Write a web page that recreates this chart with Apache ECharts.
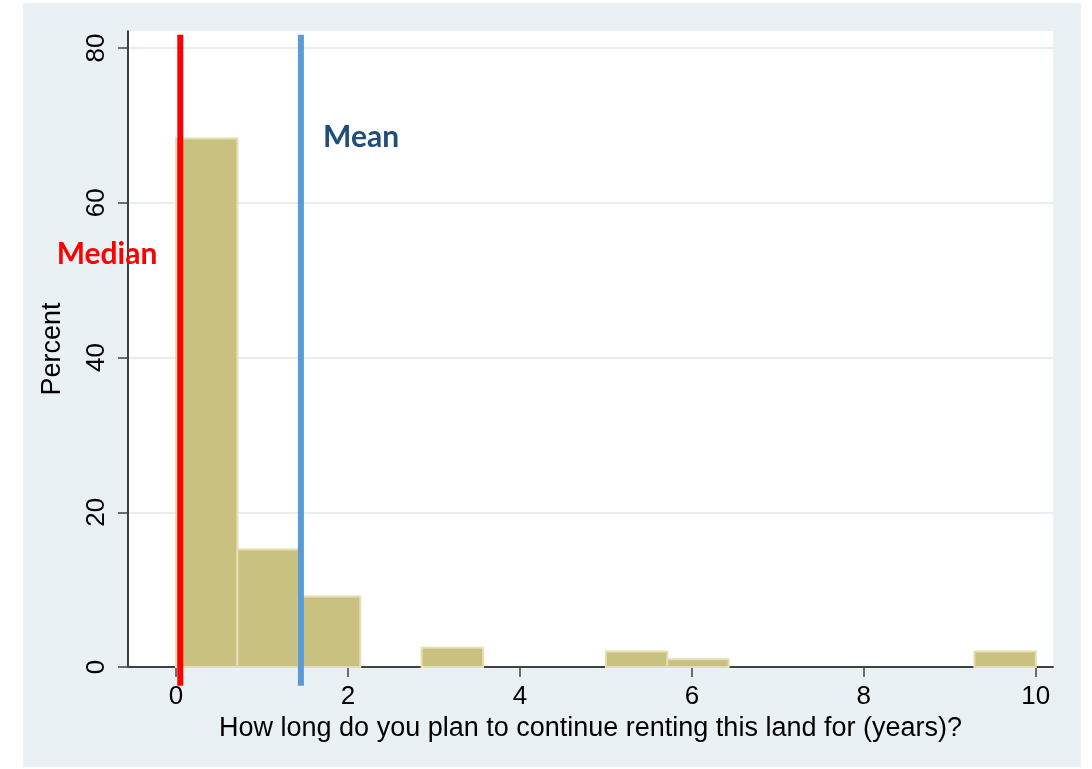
<!DOCTYPE html>
<html>
<head>
<meta charset="utf-8">
<script src="https://cdn.jsdelivr.net/npm/echarts@6/dist/echarts.min.js"></script>
<style>
  html, body { margin: 0; padding: 0; background: #ffffff; }
  #chart { width: 1092px; height: 769px; }
</style>
</head>
<body>
<div id="chart"></div>
<script>
// Histogram: 14 equal-width bins from 0 to 10 years
const binStart = 0;
const binEnd = 10;
const binCount = 14;
const binPercents = [68.3, 15.2, 9.1, 0, 2.5, 0, 0, 2.0, 1.0, 0, 0, 0, 0, 2.0];

// Summary lines
const medianValue = 0.05;
const meanValue = 1.453;

// Axis ticks
const xTicks = [0, 2, 4, 6, 8, 10];
const yTicks = [0, 20, 40, 60, 80];

const xTitle = 'How long do you plan to continue renting this land for (years)?';
const yTitle = 'Percent';

const binWidth = (binEnd - binStart) / binCount;
const histData = binPercents.map((v, i) => [binStart + i * binWidth, binStart + (i + 1) * binWidth, v]);

const lineTop = 81.7;
const lineBottom = -2.42;

const chart = echarts.init(document.getElementById('chart'), null, { renderer: 'canvas' });

const axisFont = 'Liberation Sans, Arial, sans-serif';

const option = {
  animation: false,
  backgroundColor: '#ffffff',
  graphic: [
    {
      type: 'rect',
      z: -10,
      silent: true,
      shape: { x: 23, y: 3, width: 1058, height: 764 },
      style: { fill: '#eaf1f4' }
    },
    {
      type: 'text',
      z: 100,
      style: {
        text: 'Median',
        x: 107, y: 254,
        textAlign: 'center', textVerticalAlign: 'middle',
        font: 'bold 30px Lato, "Open Sans", sans-serif',
        fill: '#ff0000'
      }
    },
    {
      type: 'text',
      z: 100,
      style: {
        text: 'Mean',
        x: 323, y: 137.5,
        textAlign: 'left', textVerticalAlign: 'middle',
        font: 'bold 30px Lato, "Open Sans", sans-serif',
        fill: '#1f4e79'
      }
    }
  ],
  grid: {
    left: 128, top: 31, right: 39, bottom: 102,
    show: true, backgroundColor: '#ffffff', borderWidth: 0,
    containLabel: false
  },
  xAxis: {
    type: 'value',
    min: -0.558, max: 10.2,
    name: xTitle,
    nameLocation: 'middle',
    nameGap: 44,
    nameTextStyle: { fontFamily: axisFont, fontSize: 27, color: '#000000' },
    axisLine: { show: true, onZero: false, lineStyle: { color: '#404040', width: 2 } },
    axisTick: { show: true, length: 10, customValues: xTicks, lineStyle: { color: '#404040', width: 1.5 } },
    axisLabel: { customValues: xTicks, margin: 17, fontFamily: axisFont, fontSize: 26, color: '#000000' },
    splitLine: { show: false }
  },
  yAxis: {
    type: 'value',
    min: 0, max: 82.2, interval: 20,
    name: yTitle,
    nameLocation: 'middle',
    nameGap: 62,
    nameRotate: 90,
    nameTextStyle: { fontFamily: axisFont, fontSize: 27, color: '#000000' },
    axisLine: { show: true, onZero: false, lineStyle: { color: '#000000', width: 1.5 } },
    axisTick: { show: true, length: 10, customValues: yTicks, lineStyle: { color: '#404040', width: 1.5 } },
    axisLabel: { customValues: yTicks, rotate: 90, margin: 18, fontFamily: axisFont, fontSize: 26, color: '#000000' },
    splitLine: { show: true, lineStyle: { color: '#e6eef2', width: 2 } }
  },
  series: [
    {
      type: 'custom',
      name: 'hist',
      data: histData,
      encode: { x: [0, 1], y: 2 },
      z: 3,
      renderItem: function (params, api) {
        const v = api.value(2);
        if (!(v > 0)) return null;
        const p0 = api.coord([api.value(0), v]);
        const p1 = api.coord([api.value(1), 0]);
        return {
          type: 'rect',
          shape: { x: p0[0], y: p0[1], width: p1[0] - p0[0], height: p1[1] - p0[1] },
          style: { fill: '#c9c17f', stroke: '#e4deb0', lineWidth: 2 }
        };
      }
    },
    {
      type: 'line',
      name: 'Median',
      data: [[medianValue, lineBottom], [medianValue, lineTop]],
      clip: false,
      symbol: 'none',
      z: 10,
      lineStyle: { color: '#ff0000', width: 6 }
    },
    {
      type: 'line',
      name: 'Mean',
      data: [[meanValue, lineBottom], [meanValue, lineTop]],
      clip: false,
      symbol: 'none',
      z: 10,
      lineStyle: { color: '#5b9bd5', width: 6 }
    }
  ]
};

chart.setOption(option);
</script>
</body>
</html>
